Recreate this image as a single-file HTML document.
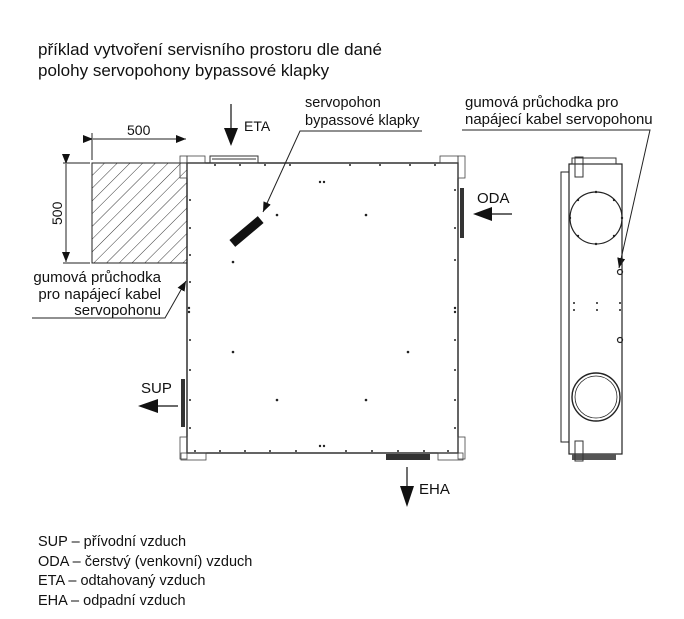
<!DOCTYPE html>
<html><head><meta charset="utf-8"><style>
html,body{margin:0;padding:0;background:#fff}
svg{display:block}
text{font-family:"Liberation Sans",Arial,sans-serif;fill:#111}
</style></head><body>
<svg width="684" height="619" viewBox="0 0 684 619" xmlns="http://www.w3.org/2000/svg">
<defs>
<pattern id="h" width="9" height="9" patternUnits="userSpaceOnUse" patternTransform="rotate(45)">
<line x1="0" y1="0" x2="0" y2="9" stroke="#222" stroke-width="0.9"/>
</pattern>
<marker id="a" markerWidth="10" markerHeight="8" refX="10" refY="4" orient="auto" markerUnits="userSpaceOnUse"><path d="M0,0 L10,4 L0,8 Z" fill="#111"/></marker>
</defs>
<text x="38" y="55" font-size="17">příklad vytvoření servisního prostoru dle dané</text>
<text x="38" y="76" font-size="17">polohy servopohony bypassové klapky</text>

<rect x="92" y="163" width="95" height="100" fill="url(#h)" stroke="#222" stroke-width="1"/>
<line x1="92" y1="133" x2="92" y2="160" stroke="#222"/>
<line x1="93" y1="139" x2="186" y2="139" stroke="#222" marker-start="url(#a)" marker-end="url(#a)"/>
<text x="127" y="135" font-size="14">500</text>
<line x1="63" y1="163" x2="90" y2="163" stroke="#222"/>
<line x1="63" y1="263" x2="90" y2="263" stroke="#222"/>
<line x1="66" y1="164" x2="66" y2="262" stroke="#222" marker-start="url(#a)" marker-end="url(#a)"/>
<text x="0" y="0" font-size="14" transform="translate(62,225) rotate(-90)">500</text>

<text x="161" y="282" font-size="15" text-anchor="end">gumová průchodka</text>
<text x="161" y="299" font-size="15" text-anchor="end">pro napájecí kabel</text>
<text x="161" y="315" font-size="15" text-anchor="end">servopohonu</text>
<polyline points="32,318 165,318 186,281" fill="none" stroke="#222" marker-end="url(#a)"/>

<rect x="187" y="163" width="271" height="290" fill="none" stroke="#222" stroke-width="1.4"/>
<g fill="none" stroke="#444" stroke-width="0.8">
<rect x="180" y="156" width="7" height="22"/><rect x="187" y="156" width="18" height="7"/>
<rect x="458" y="156" width="7" height="22"/><rect x="440" y="156" width="18" height="7"/>
<rect x="180" y="437" width="7" height="22"/><rect x="181" y="453" width="25" height="7"/>
<rect x="458" y="437" width="7" height="22"/><rect x="438" y="453" width="25" height="7"/>
</g>
<rect x="210" y="156" width="48" height="7" fill="none" stroke="#333"/>
<line x1="212" y1="159" x2="256" y2="159" stroke="#333"/>
<rect x="460" y="188" width="4" height="50" fill="#333"/>
<rect x="181" y="379" width="4" height="48" fill="#333"/>
<rect x="386" y="454" width="44" height="6" fill="#333"/>
<g fill="#222">
<circle cx="277" cy="215" r="1.3"/><circle cx="233" cy="262" r="1.3"/><circle cx="366" cy="215" r="1.3"/>
<circle cx="233" cy="352" r="1.3"/><circle cx="408" cy="352" r="1.3"/><circle cx="277" cy="400" r="1.3"/><circle cx="366" cy="400" r="1.3"/>
<circle cx="320" cy="182" r="1.2"/><circle cx="324" cy="182" r="1.2"/><circle cx="320" cy="446" r="1.2"/><circle cx="324" cy="446" r="1.2"/>
<circle cx="189" cy="308" r="1.2"/><circle cx="189" cy="312" r="1.2"/><circle cx="455" cy="308" r="1.2"/><circle cx="455" cy="312" r="1.2"/>
<circle cx="190" cy="200" r="1"/><circle cx="190" cy="228" r="1"/><circle cx="190" cy="255" r="1"/><circle cx="190" cy="282" r="1"/><circle cx="190" cy="340" r="1"/><circle cx="190" cy="370" r="1"/><circle cx="190" cy="400" r="1"/><circle cx="190" cy="428" r="1"/>
<circle cx="455" cy="190" r="1"/><circle cx="455" cy="228" r="1"/><circle cx="455" cy="260" r="1"/><circle cx="455" cy="340" r="1"/><circle cx="455" cy="370" r="1"/><circle cx="455" cy="400" r="1"/><circle cx="455" cy="428" r="1"/>
<circle cx="215" cy="165" r="1"/><circle cx="240" cy="165" r="1"/><circle cx="265" cy="165" r="1"/><circle cx="290" cy="165" r="1"/><circle cx="350" cy="165" r="1"/><circle cx="380" cy="165" r="1"/><circle cx="410" cy="165" r="1"/><circle cx="435" cy="165" r="1"/>
<circle cx="195" cy="451" r="1"/><circle cx="220" cy="451" r="1"/><circle cx="245" cy="451" r="1"/><circle cx="270" cy="451" r="1"/><circle cx="296" cy="451" r="1"/><circle cx="346" cy="451" r="1"/><circle cx="372" cy="451" r="1"/><circle cx="398" cy="451" r="1"/><circle cx="424" cy="451" r="1"/><circle cx="448" cy="451" r="1"/>
</g>
<rect x="228" y="227" width="37" height="9" fill="#111" transform="rotate(-40 246.5 231.5)"/>
<text x="305" y="107" font-size="14.5">servopohon</text>
<text x="305" y="125" font-size="14.5">bypassové klapky</text>
<polyline points="422,131 300,131 263,212" fill="none" stroke="#222" marker-end="url(#a)"/>

<line x1="231" y1="104" x2="231" y2="130" stroke="#111" stroke-width="1.2"/>
<path d="M224,128 L238,128 L231,146 Z" fill="#111"/>
<text x="244" y="131" font-size="14">ETA</text>
<line x1="490" y1="214" x2="512" y2="214" stroke="#111" stroke-width="1.2"/>
<path d="M492,207 L492,221 L473,214 Z" fill="#111"/>
<text x="477" y="203" font-size="15">ODA</text>
<line x1="158" y1="406" x2="178" y2="406" stroke="#111" stroke-width="1.2"/>
<path d="M158,399 L158,413 L138,406 Z" fill="#111"/>
<text x="141" y="393" font-size="15">SUP</text>
<line x1="407" y1="467" x2="407" y2="488" stroke="#111" stroke-width="1.2"/>
<path d="M400,486 L414,486 L407,507 Z" fill="#111"/>
<text x="419" y="494" font-size="15">EHA</text>

<text x="465" y="107" font-size="15">gumová průchodka pro</text>
<text x="465" y="124" font-size="15">napájecí kabel servopohonu</text>
<polyline points="462,130 650,130 619,268" fill="none" stroke="#222" marker-end="url(#a)"/>
<rect x="569" y="164" width="53" height="290" fill="none" stroke="#222" stroke-width="1.2"/>
<rect x="561" y="172" width="8" height="270" fill="none" stroke="#222"/>
<rect x="572" y="158" width="44" height="6" fill="none" stroke="#333"/>
<rect x="572" y="454" width="44" height="6" fill="#555"/>
<rect x="575" y="157" width="8" height="20" fill="none" stroke="#333"/>
<rect x="575" y="441" width="8" height="20" fill="none" stroke="#333"/>
<circle cx="596" cy="218" r="26" fill="none" stroke="#222" stroke-width="1.2"/>
<g fill="#222"><circle cx="596" cy="192" r="1.2"/><circle cx="596" cy="244" r="1.2"/><circle cx="570" cy="218" r="1.2"/><circle cx="622" cy="218" r="1.2"/><circle cx="578" cy="200" r="1.2"/><circle cx="614" cy="200" r="1.2"/><circle cx="578" cy="236" r="1.2"/><circle cx="614" cy="236" r="1.2"/></g>
<circle cx="596" cy="397" r="24" fill="none" stroke="#222" stroke-width="1.4"/>
<circle cx="596" cy="397" r="21" fill="none" stroke="#222" stroke-width="0.8"/>
<circle cx="620" cy="272" r="2.5" fill="none" stroke="#222" stroke-width="1.2"/>
<circle cx="620" cy="340" r="2.5" fill="none" stroke="#222" stroke-width="1.2"/>
<g fill="#222"><circle cx="574" cy="303" r="1"/><circle cx="574" cy="310" r="1"/><circle cx="597" cy="303" r="1"/><circle cx="597" cy="310" r="1"/><circle cx="620" cy="303" r="1"/><circle cx="620" cy="310" r="1"/></g>

<text x="38" y="546" font-size="14.5">SUP – přívodní vzduch</text>
<text x="38" y="566" font-size="14.5">ODA – čerstvý (venkovní) vzduch</text>
<text x="38" y="585" font-size="14.5">ETA – odtahovaný vzduch</text>
<text x="38" y="605" font-size="14.5">EHA – odpadní vzduch</text>
</svg>
</body></html>
